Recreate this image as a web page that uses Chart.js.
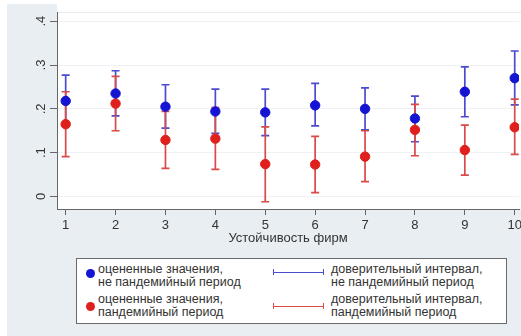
<!DOCTYPE html>
<html>
<head>
<meta charset="utf-8">
<script src="https://cdn.jsdelivr.net/npm/chart.js@4.4.1/dist/chart.umd.min.js"></script>
<style>
  html, body { margin: 0; padding: 0; width: 521px; height: 336px; overflow: hidden; background: #fff; }
  body { font-family: "Liberation Sans", Arial, sans-serif; color: #333; }
  #panel { position: absolute; left: 7px; top: 4px; width: 520px; height: 340px; background: #e8eef2; }
  #myChart { position: absolute; left: 0; top: 0; }
  #legend { position: absolute; left: 76px; top: 258px; width: 431px; height: 66px; box-sizing: border-box;
            border: 1px solid #6a6a6a; background: #fff; }
  .txt { position: absolute; font-size: 12.5px; line-height: 13px; white-space: nowrap; color: #333; }
  .dot { position: absolute; width: 9px; height: 9px; border-radius: 50%; }
  .ci { position: absolute; height: 0; border-top: 1.5px solid; }
  .ci::before, .ci::after { content: ''; position: absolute; top: -4px; width: 0; height: 6px; border-left: 1.5px solid; border-color: inherit; }
  .ci::before { left: 0; }
  .ci::after { right: 0; }
</style>
</head>
<body>
<div id="panel"></div>
<canvas id="myChart" width="525" height="250"></canvas>
<div id="legend"></div>

<script>
const categories = [1, 2, 3, 4, 5, 6, 7, 8, 9, 10];

// не пандемийный период
const estNormal  = [0.218, 0.235, 0.205, 0.194, 0.192, 0.208, 0.200, 0.178, 0.239, 0.270];
const lowNormal  = [0.160, 0.184, 0.156, 0.144, 0.139, 0.161, 0.152, 0.125, 0.182, 0.209];
const highNormal = [0.277, 0.287, 0.255, 0.245, 0.245, 0.258, 0.248, 0.229, 0.296, 0.332];

// пандемийный период
const estPandemic  = [0.165, 0.212, 0.129, 0.132, 0.074, 0.073, 0.091, 0.152, 0.106, 0.158];
const lowPandemic  = [0.091, 0.150, 0.064, 0.062, -0.012, 0.009, 0.034, 0.093, 0.049, 0.096];
const highPandemic = [0.239, 0.274, 0.194, 0.203, 0.159, 0.137, 0.150, 0.210, 0.163, 0.222];

const yTicks = [0, 0.1, 0.2, 0.3, 0.4];
const yTickLabels = ['0', '.1', '.2', '.3', '.4'];

const legendItems = [
  ['оцененные значения,', 'не пандемийный период'],
  ['оцененные значения,', 'пандемийный период'],
  ['доверительный интервал,', 'не пандемийный период'],
  ['доверительный интервал,', 'пандемийный период'],
];

const blueDot = '#1414d2';
const redDot = '#e0201c';
const blueCi = '#4b4bd0';
const redCi = '#d94a48';


// legend (html)
const elemLegend = document.querySelector('#legend');

function addText(x, y, lines) {
  const el = document.createElement('div');
  el.className = 'txt';
  el.style.left = x + 'px';
  el.style.top = y + 'px';
  el.innerHTML = lines.join('<br>');
  elemLegend.appendChild(el);
}

function addDot(x, y, color) {
  const el = document.createElement('div');
  el.className = 'dot';
  el.style.left = (x - 4.5) + 'px';
  el.style.top = (y - 4.5) + 'px';
  el.style.background = color;
  elemLegend.appendChild(el);
}

function addCi(x, y, w, color) {
  const el = document.createElement('div');
  el.className = 'ci';
  el.style.left = x + 'px';
  el.style.top = y + 'px';
  el.style.width = w + 'px';
  el.style.borderColor = color;
  elemLegend.appendChild(el);
}

addDot(13, 14, blueDot);
addDot(13, 47, redDot);
addText(21, 4, legendItems[0]);
addText(21, 34, legendItems[1]);
addCi(196, 13, 51, blueCi);
addCi(196, 47, 51, redCi);
addText(254, 4, legendItems[2]);
addText(254, 34, legendItems[3]);


// error bars + y labels drawn through the chart scales
const stataPlugin = {
  id: 'stata',
  beforeDraw(chart) {
    const { ctx, chartArea } = chart;
    ctx.save();
    ctx.fillStyle = '#fff';
    ctx.fillRect(chartArea.left, 0, chart.width - chartArea.left, chartArea.bottom);
    ctx.strokeStyle = '#e6ebee';
    ctx.lineWidth = 1;
    ctx.beginPath();
    ctx.moveTo(chartArea.left, chartArea.top + 0.5);
    ctx.lineTo(chart.width, chartArea.top + 0.5);
    ctx.stroke();
    ctx.restore();
  },
  beforeDatasetsDraw(chart) {
    const { ctx } = chart;
    const xs = chart.scales.x;
    const ys = chart.scales.y;

    const drawBars = function(lows, highs, color) {
      ctx.strokeStyle = color;
      ctx.lineWidth = 1.7;
      categories.forEach(function(c, i) {
        const x = xs.getPixelForValue(c);
        const y1 = ys.getPixelForValue(lows[i]);
        const y2 = ys.getPixelForValue(highs[i]);
        ctx.beginPath();
        ctx.moveTo(x, y1);
        ctx.lineTo(x, y2);
        ctx.moveTo(x - 4, y1);
        ctx.lineTo(x + 4, y1);
        ctx.moveTo(x - 4, y2);
        ctx.lineTo(x + 4, y2);
        ctx.stroke();
      });
    };

    ctx.save();
    drawBars(lowNormal, highNormal, blueCi);
    drawBars(lowPandemic, highPandemic, redCi);
    ctx.restore();
  },
  afterDraw(chart) {
    const { ctx } = chart;
    const ys = chart.scales.y;
    ctx.save();
    ctx.fillStyle = '#333';
    ctx.font = '13px "Liberation Sans", Arial, sans-serif';
    ctx.textAlign = 'center';
    ctx.textBaseline = 'middle';
    yTicks.forEach(function(v, i) {
      ctx.save();
      ctx.translate(41, ys.getPixelForValue(v));
      ctx.rotate(-Math.PI / 2);
      ctx.fillText(yTickLabels[i], 0, 0);
      ctx.restore();
    });
    ctx.restore();
  }
};

const ctx = document.querySelector('#myChart').getContext('2d');

// eslint-disable-next-line no-undef
const chart = new Chart(ctx, {
  type: 'scatter',
  data: {
    datasets: [{
      label: 'оцененные значения, не пандемийный период',
      data: categories.map((c, i) => ({ x: c, y: estNormal[i] })),
      backgroundColor: blueDot,
      borderColor: blueDot,
      pointRadius: 4.7,
      order: 1,
    },
    {
      label: 'оцененные значения, пандемийный период',
      data: categories.map((c, i) => ({ x: c, y: estPandemic[i] })),
      backgroundColor: redDot,
      borderColor: redDot,
      pointRadius: 4.7,
      order: 2,
    }]
  },
  options: {
    responsive: false,
    animation: false,
    events: [],
    layout: { padding: { left: 7, top: 12, right: 0, bottom: 0 } },
    plugins: {
      legend: { display: false },
      tooltip: { enabled: false },
    },
    scales: {
      x: {
        type: 'linear',
        min: 0.826,
        max: 10.086,
        afterBuildTicks(scale) {
          scale.ticks = categories.map(v => ({ value: v }));
        },
        afterFit(scale) {
          scale.height = 41;
        },
        grid: { drawOnChartArea: false, tickLength: 6, tickColor: '#666', lineWidth: 1 },
        border: { display: true, color: '#666', width: 1 },
        ticks: {
          color: '#333',
          font: { size: 13, family: '"Liberation Sans", Arial, sans-serif' },
          padding: 3,
          maxRotation: 0,
        },
        title: {
          display: true,
          text: 'Устойчивость фирм',
          color: '#333',
          font: { size: 13, family: '"Liberation Sans", Arial, sans-serif' },
          padding: { top: 0, bottom: 4 },
        },
      },
      y: {
        min: -0.0285,
        max: 0.421,
        afterBuildTicks(scale) {
          scale.ticks = yTicks.map(v => ({ value: v }));
        },
        afterFit(scale) {
          scale.width = 50;
        },
        grid: { color: '#eef2f4', tickColor: '#666', tickLength: 7, lineWidth: 1 },
        border: { display: true, color: '#666', width: 1 },
        ticks: { display: false },
      },
    },
  },
  plugins: [stataPlugin],
});
</script>
</body>
</html>
